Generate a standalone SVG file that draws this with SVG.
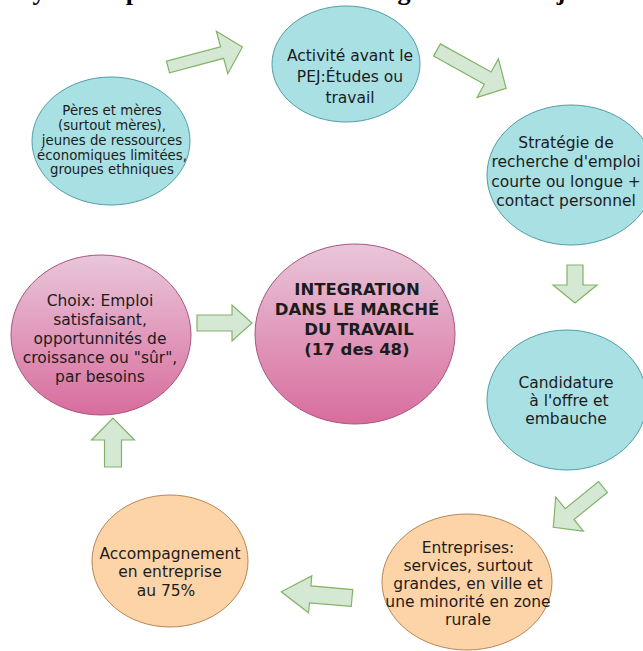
<svg xmlns="http://www.w3.org/2000/svg" width="643" height="651" viewBox="0 0 643 651">
<defs>
<linearGradient id="pink" x1="0" y1="0" x2="0" y2="1">
<stop offset="0" stop-color="#e9c6da"/>
<stop offset="1" stop-color="#d86d9d"/>
</linearGradient>
<style>
.cyan{fill:#a9e0e4;stroke:#4f9fa5;stroke-width:1}
.pink{fill:url(#pink);stroke:#a8557c;stroke-width:1}
.orange{fill:#fdd4a8;stroke:#b58753;stroke-width:1}
.arrow{fill:#d5e8d4;stroke:#82b366;stroke-width:1.2;stroke-linejoin:miter}
.t{font-family:"DejaVu Sans",Verdana,sans-serif;fill:#1c1c1c;text-anchor:middle}
.s{font-size:13.3px}
.m{font-size:15.5px}
.b{font-size:16.5px;font-weight:bold}
.title{font-family:"Liberation Serif","Times New Roman",serif;font-weight:bold;font-size:26px;fill:#000;text-anchor:middle}
</style>
</defs>
<rect width="643" height="651" fill="#ffffff"/>
<g id="title-fragment">
<text class="title" x="39" y="-0.5">y</text>
<text class="title" x="133" y="-0.5">p</text>
<text class="title" x="404" y="-0.5">g</text>
<text class="title" x="561" y="-0.5">j</text>
</g>
<g id="connectors">
<path class="arrow" transform="translate(168,67) rotate(-15)" d="M0,-6 L56,-6 L56,-22 L77,0 L56,22 L56,6 L0,6 Z"/>
<path class="arrow" transform="translate(437,50) rotate(29)" d="M0,-7 L58,-7 L58,-22 L79,0 L58,22 L58,7 L0,7 Z"/>
<path class="arrow" transform="translate(575,265) rotate(90)" d="M0,-8 L20,-8 L20,-22 L38,0 L20,22 L20,8 L0,8 Z"/>
<path class="arrow" transform="translate(197,323)" d="M0,-8 L35,-8 L35,-18 L55,0 L35,18 L35,8 L0,8 Z"/>
<path class="arrow" transform="translate(603,487) rotate(141)" d="M0,-7 L43,-7 L43,-22 L64,0 L43,22 L43,7 L0,7 Z"/>
<path class="arrow" transform="translate(352,598) rotate(185)" d="M0,-8.5 L42,-8.5 L42,-18.5 L71,0 L42,18.5 L42,8.5 L0,8.5 Z"/>
<path class="arrow" transform="translate(113,467) rotate(-90)" d="M0,-8.5 L27,-8.5 L27,-21.5 L49,0 L27,21.5 L27,8.5 L0,8.5 Z"/>
</g>
<g id="node-peres">
<ellipse class="cyan" cx="111" cy="141" rx="79" ry="64"/>
<text class="t s" x="112" y="114.5">Pères et mères</text>
<text class="t s" x="112" y="129.5">(surtout mères),</text>
<text class="t s" x="112" y="144.5">jeunes de ressources</text>
<text class="t s" x="112" y="159.5">économiques limitées,</text>
<text class="t s" x="112" y="174">groupes ethniques</text>
</g>
<g id="node-activite">
<ellipse class="cyan" cx="346" cy="64" rx="74" ry="58"/>
<text class="t m" x="350" y="60.5">Activité avant le</text>
<text class="t m" x="350" y="82">PEJ:Études ou</text>
<text class="t m" x="350" y="103">travail</text>
</g>
<g id="node-strategie">
<ellipse class="cyan" cx="571" cy="175" rx="84" ry="70"/>
<text class="t m" x="566" y="147.5">Stratégie de</text>
<text class="t m" x="566" y="167">recherche d'emploi</text>
<text class="t m" x="566" y="187">courte ou longue +</text>
<text class="t m" x="566" y="206">contact personnel</text>
</g>
<g id="node-integration">
<ellipse class="pink" cx="355" cy="334" rx="100" ry="90"/>
<text class="t b" x="357" y="295">INTEGRATION</text>
<text class="t b" x="357" y="315">DANS LE MARCHÉ</text>
<text class="t b" x="359" y="335">DU TRAVAIL</text>
<text class="t b" x="357" y="355">(17 des 48)</text>
</g>
<g id="node-choix">
<ellipse class="pink" cx="101" cy="335" rx="90" ry="80"/>
<text class="t m" x="100" y="305.5">Choix: Emploi</text>
<text class="t m" x="100" y="324.5">satisfaisant,</text>
<text class="t m" x="100" y="343.5">opportunnités de</text>
<text class="t m" x="100" y="362.5">croissance ou "sûr",</text>
<text class="t m" x="100" y="381.5">par besoins</text>
</g>
<g id="node-candidature">
<ellipse class="cyan" cx="567" cy="400" rx="80" ry="70"/>
<text class="t m" x="566" y="387.5">Candidature</text>
<text class="t m" x="569" y="405.5">à l'offre et</text>
<text class="t m" x="566" y="423.5">embauche</text>
</g>
<g id="node-entreprises">
<ellipse class="orange" cx="467" cy="582" rx="85" ry="68"/>
<text class="t m" x="468" y="552.5">Entreprises:</text>
<text class="t m" x="468" y="570.5">services, surtout</text>
<text class="t m" x="468" y="588.5">grandes, en ville et</text>
<text class="t m" x="468" y="606.5">une minorité en zone</text>
<text class="t m" x="468" y="624.5">rurale</text>
</g>
<g id="node-accompagnement">
<ellipse class="orange" cx="170" cy="561" rx="78" ry="66"/>
<text class="t m" x="170" y="558.5">Accompagnement</text>
<text class="t m" x="170" y="577">en entreprise</text>
<text class="t m" x="166" y="595.5">au 75%</text>
</g>
</svg>
